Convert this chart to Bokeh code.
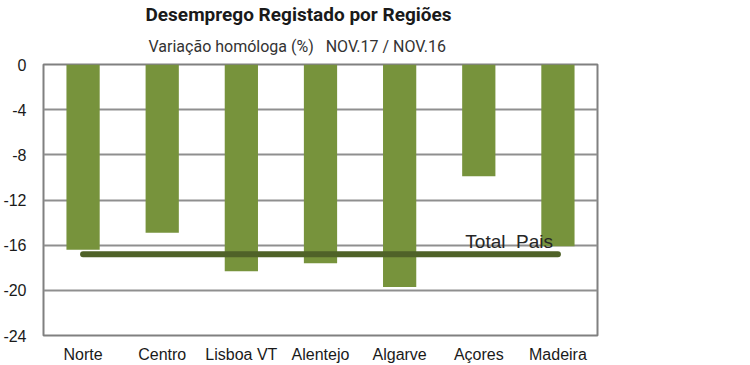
from bokeh.plotting import figure
from bokeh.models import ColumnDataSource, Label, Range1d, FixedTicker, Title
from bokeh.embed import file_html
from bokeh.resources import INLINE

regions = ["Norte", "Centro", "Lisboa VT", "Alentejo", "Algarve", "Açores", "Madeira"]
variation = [-16.4, -14.9, -18.3, -17.6, -19.7, -9.9, -16.1]
total_pais = -16.8
y_ticks = [0, -4, -8, -12, -16, -20, -24]

NB = "\u00a0"
title_text = "Desemprego Registado por Regiões"
subtitle_text = "Variação homóloga (%)" + NB * 3 + "NOV.17 / NOV.16"
total_label = "Total" + NB * 2 + "Pais"

src = ColumnDataSource(dict(x=regions, top=[0] * len(regions), bottom=variation))
line_src = ColumnDataSource(dict(x=regions, y=[total_pais] * len(regions)))

p = figure(x_range=regions, y_range=Range1d(-24, 0),
           frame_width=554, frame_height=271,
           min_border_left=35, min_border_right=145, min_border_top=0, min_border_bottom=20,
           output_backend="svg", toolbar_location=None, tools="")
p.title.visible = False

p.vbar(x="x", top="top", bottom="bottom", width=0.42, source=src,
       fill_color="#77933C", line_color=None)
p.line(x="x", y="y", source=line_src, line_color="#4F6228", line_width=6, line_cap="round")

p.yaxis.ticker = FixedTicker(ticks=y_ticks)
p.yaxis.major_label_overrides = {t: str(t) for t in y_ticks}
for ax in (p.xaxis[0], p.yaxis[0]):
    ax.axis_line_color = None
    ax.major_tick_line_color = None
    ax.minor_tick_line_color = None
    ax.major_label_text_font = "Liberation Sans"
    ax.major_label_text_font_size = "16px"
    ax.major_label_text_color = "#1a1a1a"
p.yaxis.major_label_standoff = 11
p.xaxis.major_label_standoff = 4

p.xgrid.grid_line_color = None
p.ygrid.grid_line_color = "#8f8f8f"
p.ygrid.grid_line_width = 2
p.outline_line_color = "#808080"
p.outline_line_width = 2
p.background_fill_color = "white"
p.border_fill_color = "white"

p.add_layout(Label(x=5.33, y=-15.7, text=total_label, text_font="Liberation Sans",
                   text_font_size="19px", text_color="#262626",
                   text_baseline="alphabetic", text_align="left"))

sub = Title(text=subtitle_text, text_font="Roboto", text_font_style="normal",
            text_font_size="16px", text_color="#333333", align="left", offset=105,
            standoff=18)
main = Title(text=title_text, text_font="Roboto", text_font_style="bold",
             text_font_size="19px", text_color="#1a1a1a", align="left", offset=102,
             standoff=0)
p.add_layout(sub, "above")
p.add_layout(main, "above")

open("out.html", "w").write(file_html(p, INLINE))
